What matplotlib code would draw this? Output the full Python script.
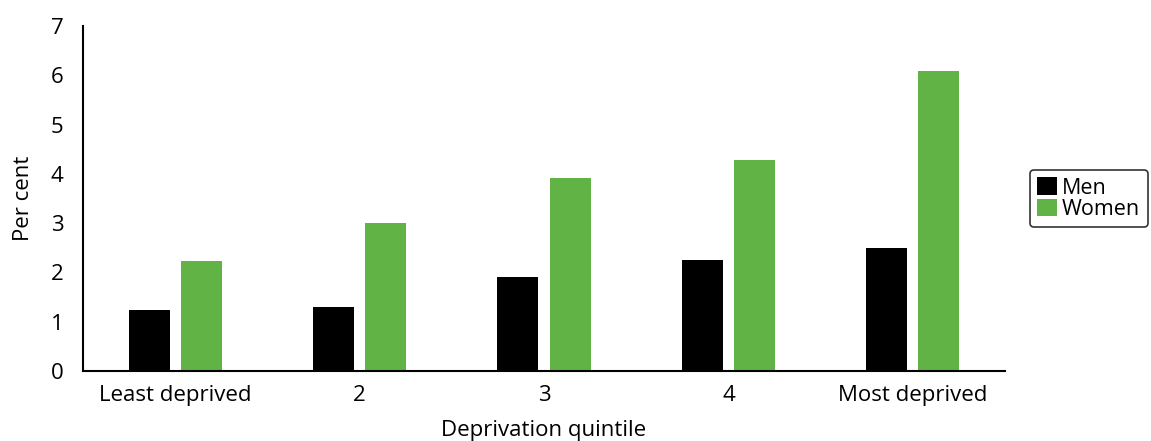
import matplotlib.pyplot as plt
import numpy as np

plt.rcParams['font.family'] = ['Open Sans', 'DejaVu Sans']

categories = ["Least deprived", "2", "3", "4", "Most deprived"]
men = [1.24, 1.30, 1.91, 2.25, 2.49]
women = [2.23, 3.00, 3.91, 4.28, 6.08]

fig = plt.figure(figsize=(11.51, 4.41), dpi=100)
ax = fig.add_axes([83/1151, 1-371/441, 922/1151, 345/441])

x = np.arange(len(categories))
w = 0.223
ax.bar(x - w/2 - 0.03, men, w, color="black", label="Men")
ax.bar(x + w/2 + 0.03, women, w, color="#62b346", label="Women")

ax.set_xlim(-0.5, 4.5)
ax.set_ylim(0, 7)
ax.set_xticks(x)
ax.set_xticklabels(categories)
ax.set_yticks(range(8))
ax.tick_params(length=0, labelsize=16)
ax.tick_params(axis="x", pad=10)
ax.tick_params(axis="y", pad=14)
for s in ["top", "right"]:
    ax.spines[s].set_visible(False)
ax.spines["left"].set_linewidth(1.5)
ax.spines["bottom"].set_linewidth(1.5)

ax.set_xlabel("Deprivation quintile", fontsize=16, labelpad=10)
ax.set_ylabel("Per cent", fontsize=16, labelpad=12)

leg = ax.legend(loc="center left", bbox_to_anchor=(1.027, 0.5), fontsize=15.5,
                frameon=True, edgecolor="black", fancybox=True,
                handlelength=0.9, handleheight=0.9, handletextpad=0.25,
                labelspacing=0.0, borderpad=0.35, borderaxespad=0)
leg.get_frame().set_linewidth(1.2)

fig.savefig("out.png", dpi=100)
